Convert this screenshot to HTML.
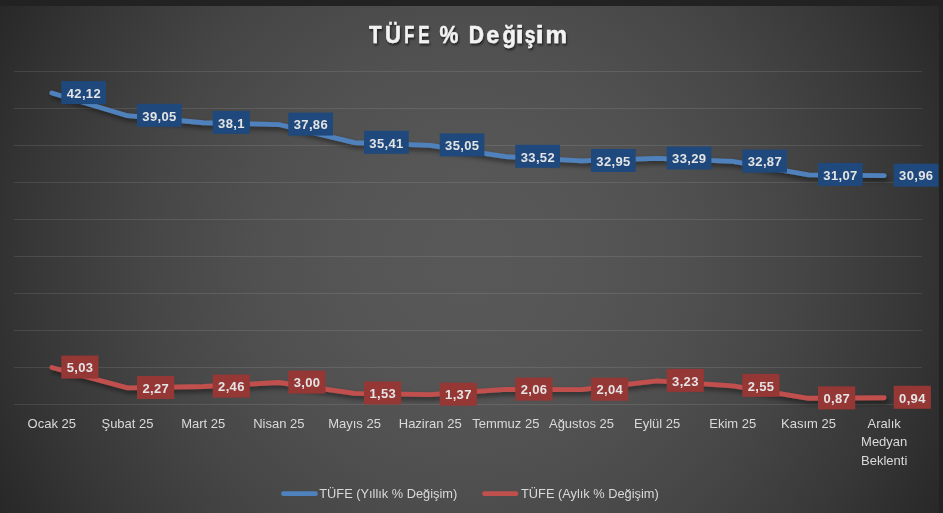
<!DOCTYPE html>
<html><head><meta charset="utf-8"><style>
html,body{margin:0;padding:0;background:#222;}
body{width:943px;height:513px;overflow:hidden;position:relative;font-family:"Liberation Sans",sans-serif;}
svg{position:absolute;left:0;top:0;}
.g{stroke:rgba(255,255,255,0.1);stroke-width:1;}
.lab{font-family:"Liberation Sans",sans-serif;font-weight:bold;font-size:13px;fill:#e4e4e4;text-anchor:middle;letter-spacing:0.35px;}
.cat{font-family:"Liberation Sans",sans-serif;font-size:13px;fill:#d9d9d9;text-anchor:middle;}
.leg{font-family:"Liberation Sans",sans-serif;font-size:12.8px;fill:#d9d9d9;}
.title{font-family:"Liberation Sans",sans-serif;font-weight:bold;font-size:23px;fill:#f2f2f2;stroke:#f2f2f2;stroke-width:0.45px;}
</style></head><body>
<svg width="943" height="513" viewBox="0 0 943 513">
<defs>
<radialGradient id="bg" cx="470" cy="258" r="540" gradientUnits="userSpaceOnUse">
<stop offset="0.00" stop-color="#585858"/>
<stop offset="0.20" stop-color="#565656"/>
<stop offset="0.40" stop-color="#505050"/>
<stop offset="0.60" stop-color="#464646"/>
<stop offset="0.80" stop-color="#383838"/>
<stop offset="0.86" stop-color="#333333"/>
<stop offset="0.95" stop-color="#2b2b2b"/>
<stop offset="1.00" stop-color="#272727"/>
</radialGradient>
<filter id="sh" x="-10%" y="-50%" width="120%" height="200%">
<feGaussianBlur in="SourceAlpha" stdDeviation="2.5"/>
<feOffset dx="1.5" dy="3" result="b"/>
<feComponentTransfer><feFuncA type="linear" slope="0.5"/></feComponentTransfer>
<feMerge><feMergeNode/><feMergeNode in="SourceGraphic"/></feMerge>
</filter>
<filter id="tsh" x="-10%" y="-30%" width="120%" height="160%">
<feGaussianBlur in="SourceAlpha" stdDeviation="1"/>
<feOffset dx="1" dy="1.5"/>
<feComponentTransfer><feFuncA type="linear" slope="0.6"/></feComponentTransfer>
<feMerge><feMergeNode/><feMergeNode in="SourceGraphic"/></feMerge>
</filter>
<filter id="nop"><feOffset dx="0" dy="0"/></filter>
</defs>
<rect x="0" y="0" width="943" height="513" fill="#222"/>
<rect x="0" y="6" width="939" height="507" fill="url(#bg)"/>
<line x1="14" y1="71.5" x2="922" y2="71.5" class="g"/>
<line x1="14" y1="108.5" x2="922" y2="108.5" class="g"/>
<line x1="14" y1="145.5" x2="922" y2="145.5" class="g"/>
<line x1="14" y1="182.5" x2="922" y2="182.5" class="g"/>
<line x1="14" y1="219.5" x2="922" y2="219.5" class="g"/>
<line x1="14" y1="256.5" x2="922" y2="256.5" class="g"/>
<line x1="14" y1="293.5" x2="922" y2="293.5" class="g"/>
<line x1="14" y1="330.5" x2="922" y2="330.5" class="g"/>
<line x1="14" y1="367.5" x2="922" y2="367.5" class="g"/>
<line x1="14" y1="404.5" x2="922" y2="404.5" class="g"/>
<path d="M51.83,93.01 L127.50,115.73 L203.17,122.76 L278.83,124.54 L354.50,142.67 L430.17,145.33 L505.83,156.65 L581.50,160.87 L657.17,158.35 L732.83,161.46 L808.50,174.78 L884.17,175.60" fill="none" stroke="#4f81bd" stroke-width="4.8" stroke-linecap="round" stroke-linejoin="round" filter="url(#sh)"/>
<path d="M51.83,367.48 L127.50,387.90 L203.17,386.50 L278.83,382.50 L354.50,393.38 L430.17,394.56 L505.83,389.46 L581.50,389.60 L657.17,380.80 L732.83,385.83 L808.50,398.26 L884.17,397.74" fill="none" stroke="#c0504d" stroke-width="4.8" stroke-linecap="round" stroke-linejoin="round" filter="url(#sh)"/>
<rect x="61.3" y="81.1" width="44.7" height="23" fill="#1f497d"/>
<text x="83.9" y="97.8" class="lab" filter="url(#nop)">42,12</text>
<rect x="137.0" y="103.8" width="44.7" height="23" fill="#1f497d"/>
<text x="159.5" y="120.5" class="lab" filter="url(#nop)">39,05</text>
<rect x="212.7" y="110.9" width="37.2" height="23" fill="#1f497d"/>
<text x="231.4" y="127.6" class="lab" filter="url(#nop)">38,1</text>
<rect x="288.3" y="112.6" width="44.7" height="23" fill="#1f497d"/>
<text x="310.9" y="129.3" class="lab" filter="url(#nop)">37,86</text>
<rect x="364.0" y="130.8" width="44.7" height="23" fill="#1f497d"/>
<text x="386.5" y="147.5" class="lab" filter="url(#nop)">35,41</text>
<rect x="439.7" y="133.4" width="44.7" height="23" fill="#1f497d"/>
<text x="462.2" y="150.1" class="lab" filter="url(#nop)">35,05</text>
<rect x="515.3" y="144.8" width="44.7" height="23" fill="#1f497d"/>
<text x="537.9" y="161.5" class="lab" filter="url(#nop)">33,52</text>
<rect x="591.0" y="149.0" width="44.7" height="23" fill="#1f497d"/>
<text x="613.5" y="165.7" class="lab" filter="url(#nop)">32,95</text>
<rect x="666.7" y="146.5" width="44.7" height="23" fill="#1f497d"/>
<text x="689.2" y="163.2" class="lab" filter="url(#nop)">33,29</text>
<rect x="742.3" y="149.6" width="44.7" height="23" fill="#1f497d"/>
<text x="764.9" y="166.3" class="lab" filter="url(#nop)">32,87</text>
<rect x="818.0" y="162.9" width="44.7" height="23" fill="#1f497d"/>
<text x="840.5" y="179.6" class="lab" filter="url(#nop)">31,07</text>
<rect x="893.7" y="163.7" width="44.7" height="23" fill="#1f497d"/>
<text x="916.2" y="180.4" class="lab" filter="url(#nop)">30,96</text>
<rect x="61.3" y="355.6" width="37.2" height="23" fill="#953735"/>
<text x="80.1" y="372.3" class="lab" filter="url(#nop)">5,03</text>
<rect x="137.0" y="376.0" width="37.2" height="23" fill="#953735"/>
<text x="155.8" y="392.7" class="lab" filter="url(#nop)">2,27</text>
<rect x="212.7" y="374.6" width="37.2" height="23" fill="#953735"/>
<text x="231.4" y="391.3" class="lab" filter="url(#nop)">2,46</text>
<rect x="288.3" y="370.6" width="37.2" height="23" fill="#953735"/>
<text x="307.1" y="387.3" class="lab" filter="url(#nop)">3,00</text>
<rect x="364.0" y="381.5" width="37.2" height="23" fill="#953735"/>
<text x="382.8" y="398.2" class="lab" filter="url(#nop)">1,53</text>
<rect x="439.7" y="382.7" width="37.2" height="23" fill="#953735"/>
<text x="458.4" y="399.4" class="lab" filter="url(#nop)">1,37</text>
<rect x="515.3" y="377.6" width="37.2" height="23" fill="#953735"/>
<text x="534.1" y="394.3" class="lab" filter="url(#nop)">2,06</text>
<rect x="591.0" y="377.7" width="37.2" height="23" fill="#953735"/>
<text x="609.8" y="394.4" class="lab" filter="url(#nop)">2,04</text>
<rect x="666.7" y="368.9" width="37.2" height="23" fill="#953735"/>
<text x="685.4" y="385.6" class="lab" filter="url(#nop)">3,23</text>
<rect x="742.3" y="373.9" width="37.2" height="23" fill="#953735"/>
<text x="761.1" y="390.6" class="lab" filter="url(#nop)">2,55</text>
<rect x="818.0" y="386.4" width="37.2" height="23" fill="#953735"/>
<text x="836.8" y="403.1" class="lab" filter="url(#nop)">0,87</text>
<rect x="893.7" y="385.8" width="37.2" height="23" fill="#953735"/>
<text x="912.4" y="402.5" class="lab" filter="url(#nop)">0,94</text>
<g filter="url(#nop)">
<text x="51.8" y="428" class="cat">Ocak 25</text>
<text x="127.5" y="428" class="cat">Şubat 25</text>
<text x="203.2" y="428" class="cat">Mart 25</text>
<text x="278.8" y="428" class="cat">Nisan 25</text>
<text x="354.5" y="428" class="cat">Mayıs 25</text>
<text x="430.2" y="428" class="cat">Haziran 25</text>
<text x="505.8" y="428" class="cat">Temmuz 25</text>
<text x="581.5" y="428" class="cat">Ağustos 25</text>
<text x="657.2" y="428" class="cat">Eylül 25</text>
<text x="732.8" y="428" class="cat">Ekim 25</text>
<text x="808.5" y="428" class="cat">Kasım 25</text>
<text x="884.2" y="427.5" class="cat">Aralık</text><text x="884.2" y="446" class="cat">Medyan</text><text x="884.2" y="464.5" class="cat">Beklenti</text>
</g>
<g filter="url(#tsh)"><text transform="translate(369.08 42.6) scale(0.896 1.000)" class="title">T</text><text transform="translate(385.11 42.6) scale(0.957 1.000)" class="title">Ü</text><text transform="translate(404.27 42.6) scale(0.718 1.000)" class="title">F</text><text transform="translate(418.35 42.6) scale(0.736 1.000)" class="title">E</text><text transform="translate(439.50 42.6) scale(0.922 1.000)" class="title">%</text><text transform="translate(468.78 42.6) scale(0.915 1.000)" class="title">D</text><text transform="translate(486.33 42.6) scale(1.018 1.040)" class="title">e</text><text transform="translate(502.40 42.6) scale(0.948 1.040)" class="title">ğ</text><text transform="translate(515.65 42.6) scale(1.250 1.040)" class="title">i</text><text transform="translate(524.78 42.6) scale(0.836 1.040)" class="title">ş</text><text transform="translate(535.75 42.6) scale(1.250 1.040)" class="title">i</text><text transform="translate(545.47 42.6) scale(1.051 1.040)" class="title">m</text></g>
<line x1="283.5" y1="493.7" x2="315.5" y2="493.7" stroke="#4f81bd" stroke-width="4.8" stroke-linecap="round"/>
<text x="319.3" y="497.7" class="leg" filter="url(#nop)">TÜFE (Yıllık % Değişim)</text>
<line x1="484.5" y1="493.7" x2="516" y2="493.7" stroke="#c0504d" stroke-width="4.8" stroke-linecap="round"/>
<text x="521" y="497.7" class="leg" filter="url(#nop)">TÜFE (Aylık % Değişim)</text>
</svg>
</body></html>
